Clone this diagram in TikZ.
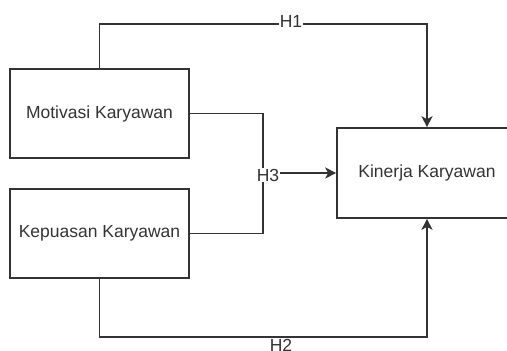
\documentclass[tikz,border=0pt]{standalone}
\usepackage{fontspec}
\setmainfont{Liberation Sans}
\usetikzlibrary{arrows.meta}
\definecolor{ln}{HTML}{333333}
\definecolor{tx}{HTML}{333333}
\begin{document}
\begin{tikzpicture}[x=1pt,y=-1pt,
  box/.style={draw=ln,line width=1.6pt,minimum width=179pt,minimum height=89pt,inner sep=0pt,font=\fontsize{17.5}{20}\selectfont,text=tx},
  conn/.style={draw=ln,line width=1.6pt},
  arr/.style={conn,-{Stealth[length=11pt,width=11pt,inset=3pt]}},
  lbl/.style={fill=white,inner sep=1pt,font=\fontsize{17.5}{20}\selectfont,text=tx}]
\useasboundingbox (0,0) rectangle (507,351);
\node[box] (mot) at (99.5,113.5) {Motivasi Karyawan};
\node[box] (kep) at (99.5,233.5) {Kepuasan Karyawan};
\node[box,minimum width=180pt,minimum height=90pt] (kin) at (427,173) {Kinerja Karyawan};
\coordinate (t1) at (99.5,24);
\coordinate (t2) at (427,24);
\coordinate (b1) at (99.5,337);
\coordinate (b2) at (427,337);
\coordinate (m1) at (263,113.5);
\coordinate (k1) at (263,233.5);
\coordinate (j) at (263,173);
\draw[arr] (mot.north) -- (t1) -- (t2) -- (kin.north);
\draw[arr] (kep.south) -- (b1) -- (b2) -- (kin.south);
\draw[conn] (mot.east) -- (m1) -- (j);
\draw[conn] (kep.east) -- (k1) -- (j);
\draw[arr] (j) -- (kin.west);
\node[lbl] (h1) at (291,21) {H1};
\node[lbl] (h2) at (281,345) {H2};
\node[lbl] (h3) at (268,175) {H3};
\end{tikzpicture}
\end{document}
